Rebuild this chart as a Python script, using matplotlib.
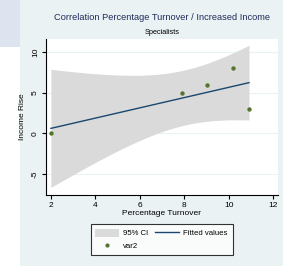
import numpy as np
import matplotlib
matplotlib.use('Agg')
import matplotlib.pyplot as plt
from matplotlib.patches import Rectangle, Patch
from matplotlib.lines import Line2D

plt.rcParams['font.family'] = ['Liberation Sans Narrow', 'Liberation Sans', 'DejaVu Sans']

turnover = np.array([2.0, 7.9, 9.0, 10.2, 10.9])
income_rise = np.array([0.0, 5.0, 6.0, 8.0, 3.0])
xticks = [2, 4, 6, 8, 10, 12]
yticks = [-5, 0, 5, 10]
t_crit = 3.182  # t(0.975, df=3)

# linear fit + 95% CI of the mean, like Stata lfitci
n = len(turnover)
xm, ym = turnover.mean(), income_rise.mean()
sxx = ((turnover - xm) ** 2).sum()
slope = ((turnover - xm) * (income_rise - ym)).sum() / sxx
icpt = ym - slope * xm
resid = income_rise - (icpt + slope * turnover)
s = np.sqrt((resid ** 2).sum() / (n - 2))
xs = np.linspace(turnover.min(), turnover.max(), 100)
fit = icpt + slope * xs
half = t_crit * s * np.sqrt(1 / n + (xs - xm) ** 2 / sxx)

fig = plt.figure(figsize=(2.83, 2.66), dpi=100)
fig.patch.set_facecolor('white')
fig.patches.append(Rectangle((20 / 283, 0), 1, 1, transform=fig.transFigure,
                             facecolor='#eaf2f3', edgecolor='none', zorder=-2))
fig.patches.append(Rectangle((0, 1 - 47 / 266), 20 / 283, 47 / 266, transform=fig.transFigure,
                             facecolor='#dde4ef', edgecolor='none', zorder=-2))

ax = fig.add_axes([0.1625, 0.267, 0.8195, 0.586])
ax.set_facecolor('white')
ax.fill_between(xs, fit - half, fit + half, color='#dadada', lw=0, zorder=1)
ax.plot(xs, fit, color='#1a476f', lw=1.0, zorder=2)
ax.scatter(turnover, income_rise, s=10, color='#55752f', zorder=3, linewidths=0)

ax.set_xlim(1.78, 12.2)
ax.set_ylim(-7.6, 11.6)
ax.set_xticks(xticks)
ax.set_yticks(yticks)
ax.set_yticklabels([str(v) for v in yticks], rotation=90, va='center')
ax.grid(axis='y', color='#eaf2f3', lw=0.8, zorder=0)
ax.set_axisbelow(True)
for sp in ['top', 'right']:
    ax.spines[sp].set_visible(False)
for sp in ['left', 'bottom']:
    ax.spines[sp].set_linewidth(0.8)
ax.tick_params(labelsize=6, length=3, width=0.8, pad=2)
ax.set_xlabel('Percentage Turnover', fontsize=6, labelpad=1)
ax.set_ylabel('Income Rise', fontsize=6, labelpad=4)

fig.text(162 / 283, 1 - 17 / 266, 'Correlation Percentage Turnover / Increased Income',
         ha='center', va='center', fontsize=6.7, color='#1e2d5c')
fig.text(162 / 283, 1 - 33 / 266, 'Specialists', ha='center', va='center', fontsize=5.3)

handles = [Patch(facecolor='#dadada', edgecolor='none'),
           Line2D([], [], marker='o', ls='none', color='#55752f', markersize=3, markeredgewidth=0),
           Line2D([], [], color='#1a476f', lw=1.0)]
labels = ['95% CI', 'var2', 'Fitted values']
leg = fig.legend(handles, labels, loc='center', bbox_to_anchor=(0.571, 0.10), ncol=2,
                 fontsize=5.6, frameon=True, fancybox=False, borderpad=0.6,
                 handlelength=3.0, handleheight=1.3, columnspacing=0.9, handletextpad=0.6,
                 labelspacing=0.5)
leg.get_frame().set_edgecolor('black')
leg.get_frame().set_linewidth(0.8)

fig.savefig('out.png', dpi=100)
